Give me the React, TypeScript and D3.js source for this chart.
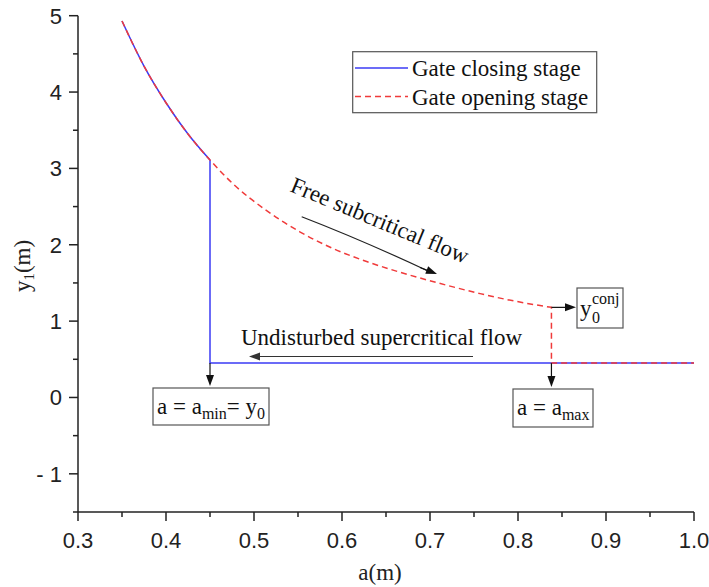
import React from "react";
import * as d3 from "d3";

// ---- data ----
const curveA = [0.35, 0.375, 0.4, 0.425, 0.45, 0.476, 0.514, 0.552, 0.59, 0.628, 0.666, 0.719, 0.757, 0.795, 0.838];
const curveY = [4.93, 4.34, 3.86, 3.45, 3.11, 2.8, 2.45, 2.17, 1.95, 1.78, 1.64, 1.47, 1.36, 1.265, 1.18];
const y0 = 0.45;
const aMin = 0.45;
const aMax = 0.838;
const aEnd = 1.0;
const xTicks = [0.3, 0.4, 0.5, 0.6, 0.7, 0.8, 0.9, 1.0];
const xMinor = [0.35, 0.45, 0.55, 0.65, 0.75, 0.85, 0.95];
const yTicks = [-1, 0, 1, 2, 3, 4, 5];
const yMinor = [-1.5, -0.5, 0.5, 1.5, 2.5, 3.5, 4.5];
const legendLabels = ["Gate closing stage", "Gate opening stage"];

const W = 709;
const H = 587;
const x = d3.scaleLinear().domain([0.3, 1.0]).range([78, 694]);
const y = d3.scaleLinear().domain([-1.5, 5]).range([512, 15.7]);

const SERIF = "'Liberation Serif', 'Times New Roman', serif";
const SANS = "'Liberation Sans', Arial, sans-serif";
const BLUE = "#3b3bf5";
const RED = "#f03a3a";

const curvePts: [number, number][] = curveA.map((a, i) => [a, curveY[i]]);
const lineGen = d3
  .line<[number, number]>()
  .x((d) => x(d[0]))
  .y((d) => y(d[1]))
  .curve(d3.curveMonotoneX);

const closingCurve = curvePts.filter((p) => p[0] <= aMin).reverse();
const closingPath =
  `M${x(aEnd)},${y(y0)}L${x(aMin)},${y(y0)}L${x(aMin)},${y(closingCurve[0][1])}` +
  (lineGen(closingCurve) || "").replace(/^M/, "L");
const openingPath =
  (lineGen(curvePts) || "") + `L${x(aMax)},${y(y0)}L${x(aEnd)},${y(y0)}`;

const yAtMax = curveY[curveA.indexOf(aMax)];

function Arrow({ x1, y1, x2, y2, color = "#111" }: { x1: number; y1: number; x2: number; y2: number; color?: string }) {
  const ang = Math.atan2(y2 - y1, x2 - x1);
  const L = 11;
  const Wd = 4;
  const bx = x2 - L * Math.cos(ang);
  const by = y2 - L * Math.sin(ang);
  const px = -Math.sin(ang) * Wd;
  const py = Math.cos(ang) * Wd;
  return (
    <g>
      <line x1={x1} y1={y1} x2={bx} y2={by} stroke={color} strokeWidth={1.2} />
      <path d={`M${x2},${y2}L${bx + px},${by + py}L${bx - px},${by - py}Z`} fill={color} />
    </g>
  );
}

export default function App() {
  const fs = 23;
  const tfs = 22;
  const sub = 16;
  return (
    <div style={{ position: "fixed", left: 0, top: 0 }}>
      <svg width={W} height={H} style={{ display: "block", background: "#fff" }}>
        {/* axes */}
        <line x1={x(0.3)} y1={y(-1.5)} x2={x(0.3)} y2={y(5)} stroke="#222" strokeWidth={1.5} />
        <line x1={x(0.3)} y1={y(-1.5)} x2={x(1.0)} y2={y(-1.5)} stroke="#222" strokeWidth={1.5} />
        {yTicks.map((t) => (
          <g key={"yt" + t}>
            <line x1={x(0.3) - 9} x2={x(0.3)} y1={y(t)} y2={y(t)} stroke="#222" strokeWidth={1.5} />
            <text x={62} y={y(t) + 8} textAnchor="end" fontFamily={SANS} fontSize={tfs} fill="#222">
              {t < 0 ? "- " + Math.abs(t) : String(t)}
            </text>
          </g>
        ))}
        {yMinor.map((t) => (
          <line key={"ym" + t} x1={x(0.3) - 5} x2={x(0.3)} y1={y(t)} y2={y(t)} stroke="#222" strokeWidth={1.5} />
        ))}
        {xTicks.map((t) => (
          <g key={"xt" + t}>
            <line x1={x(t)} x2={x(t)} y1={y(-1.5)} y2={y(-1.5) + 9} stroke="#222" strokeWidth={1.5} />
            <text x={x(t)} y={548} textAnchor="middle" fontFamily={SANS} fontSize={tfs} fill="#222">
              {t.toFixed(1)}
            </text>
          </g>
        ))}
        {xMinor.map((t) => (
          <line key={"xm" + t} x1={x(t)} x2={x(t)} y1={y(-1.5)} y2={y(-1.5) + 5} stroke="#222" strokeWidth={1.5} />
        ))}
        {/* axis titles */}
        <text x={380} y={580} textAnchor="middle" fontFamily={SERIF} fontSize={fs} fill="#222">
          a(m)
        </text>
        <text transform="translate(30,266) rotate(-90)" textAnchor="middle" fontFamily={SERIF} fontSize={fs} fill="#222">
          y<tspan fontSize={15} dy={4}>1</tspan>
          <tspan dy={-4}>(m)</tspan>
        </text>

        {/* series */}
        <path d={closingPath} fill="none" stroke={BLUE} strokeWidth={1.5} />
        <path d={openingPath} fill="none" stroke={RED} strokeWidth={1.5} strokeDasharray="6,4" />

        {/* legend */}
        <rect x={352.7} y={51.7} width={244} height={61} fill="#fff" stroke="#555" strokeWidth={1.2} />
        <line x1={355} x2={408} y1={68} y2={68} stroke={BLUE} strokeWidth={1.5} />
        <line x1={355} x2={408} y1={96.5} y2={96.5} stroke={RED} strokeWidth={1.5} strokeDasharray="6,4" />
        <text x={412} y={75.5} fontFamily={SERIF} fontSize={fs} fill="#111">
          {legendLabels[0]}
        </text>
        <text x={412} y={104.5} fontFamily={SERIF} fontSize={fs} fill="#111">
          {legendLabels[1]}
        </text>

        {/* Free subcritical flow */}
        <text transform="translate(289,191) rotate(22.5)" fontFamily={SERIF} fontSize={fs} fill="#111">
          Free subcritical flow
        </text>
        <path d="M301.7,216.7 Q362,240 428,271" fill="none" stroke="#222" strokeWidth={1.2} />
        <Arrow x1={420} y1={267.5} x2={437} y2={274} />

        {/* Undisturbed supercritical flow */}
        <text x={241} y={345} fontFamily={SERIF} fontSize={fs} fill="#111">
          Undisturbed supercritical flow
        </text>
        <Arrow x1={473} y1={356.5} x2={249} y2={356.5} color="#333" />

        {/* a = a_min = y0 */}
        <Arrow x1={x(aMin)} y1={y(y0)} x2={x(aMin)} y2={386} />
        <rect x={153} y={388} width={116} height={37} fill="#fff" stroke="#555" strokeWidth={1.2} />
        <text x={157} y={414} fontFamily={SERIF} fontSize={fs} fill="#111">
          a = a<tspan fontSize={sub} dy={5}>min</tspan>
          <tspan dy={-5}>= y</tspan>
          <tspan fontSize={sub} dy={5}>0</tspan>
        </text>

        {/* a = a_max */}
        <Arrow x1={x(aMax)} y1={y(y0)} x2={x(aMax)} y2={387} />
        <rect x={513} y={389} width={80} height={38} fill="#fff" stroke="#555" strokeWidth={1.2} />
        <text x={517} y={415} fontFamily={SERIF} fontSize={fs} fill="#111">
          a = a<tspan fontSize={sub} dy={5}>max</tspan>
        </text>

        {/* y0 conj */}
        <Arrow x1={x(aMax)} y1={y(yAtMax)} x2={576} y2={y(yAtMax)} />
        <rect x={577} y={288} width={46} height={40} fill="#fff" stroke="#555" strokeWidth={1.2} />
        <text x={580} y={316} fontFamily={SERIF} fontSize={fs} fill="#111">
          y
        </text>
        <text x={592} y={323} fontFamily={SERIF} fontSize={sub} fill="#111">
          0
        </text>
        <text x={592} y={304} fontFamily={SERIF} fontSize={sub} fill="#111">
          conj
        </text>
      </svg>
    </div>
  );
}
